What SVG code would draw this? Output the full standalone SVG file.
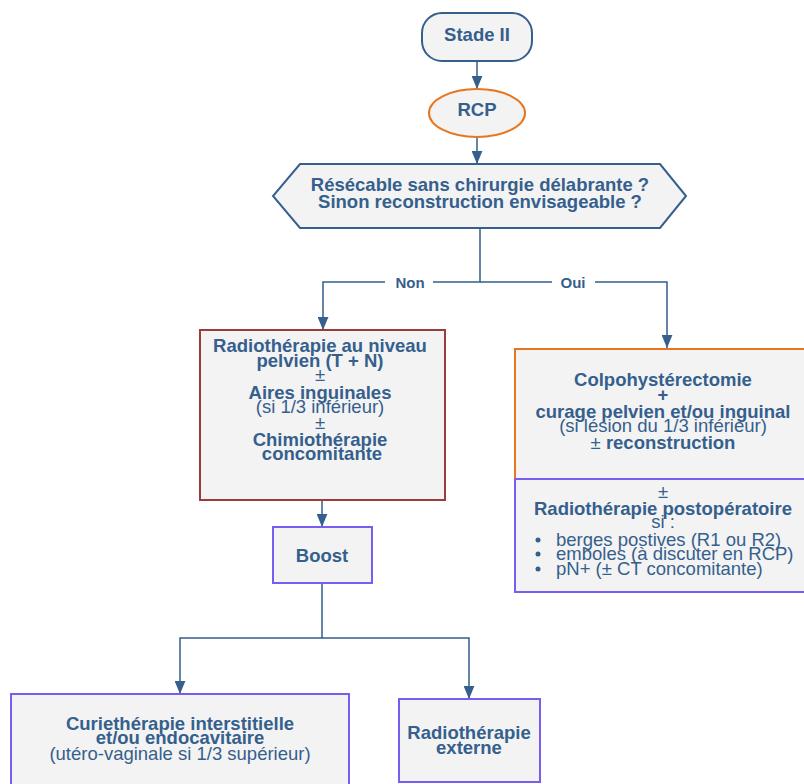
<svg xmlns="http://www.w3.org/2000/svg" width="804" height="784" viewBox="0 0 804 784">
<defs>
<style>
text{font-family:"Liberation Sans",Arial,sans-serif;fill:#355f8d;text-anchor:middle;font-size:18.5px}
.b{font-weight:bold}
.lbl{font-size:15px;font-weight:bold}
.box{fill:#f3f3f3;stroke-width:2}
.blue{stroke:#355f8d}
.orange{stroke:#e8761e}
.purple{stroke:#7b5cf0}
.red{stroke:#9b3b3b}
.edge{fill:none;stroke:#355f8d;stroke-width:1.5}
.l{text-anchor:start}
</style>
<marker id="arrL" viewBox="0 0 12 10" refX="12" refY="5" markerWidth="13" markerHeight="11" markerUnits="userSpaceOnUse" orient="auto">
<path d="M0,0 L12,5 L0,10 z" fill="#355f8d"/>
</marker>
</defs>
<rect width="804" height="784" fill="#ffffff"/>
<g id="connectors">
<path class="edge" d="M477,61 V89" marker-end="url(#arrL)"/>
<path class="edge" d="M477,137 V164" marker-end="url(#arrL)"/>
<path class="edge" d="M480,228 V282 H433 M385,282 H323 V330" marker-end="url(#arrL)"/>
<path class="edge" d="M480,282 H552 M595,282 H667 V348" marker-end="url(#arrL)"/>
<path class="edge" d="M322,500 V527" marker-end="url(#arrL)"/>
<path class="edge" d="M322,583 V638 H180 V694" marker-end="url(#arrL)"/>
<path class="edge" d="M322,638 H469 V699" marker-end="url(#arrL)"/>
<text class="lbl" x="410" y="287.5">Non</text>
<text class="lbl" x="573" y="287.5">Oui</text>
</g>
<g id="stade2">
<rect class="box blue" x="422" y="13" width="110" height="48" rx="20" ry="20"/>
<text class="b" x="477" y="40.5">Stade II</text>
</g>
<g id="rcp">
<ellipse class="box orange" cx="477" cy="113" rx="48" ry="24"/>
<text class="b" x="477" y="116">RCP</text>
</g>
<g id="decision">
<polygon class="box blue" points="300,164 660,164 686,196 660,228 300,228 273,196"/>
<text class="b" x="480" y="191">Résécable sans chirurgie délabrante ?</text>
<text class="b" x="480" y="207.5">Sinon reconstruction envisageable ?</text>
</g>
<g id="radio-pelvien">
<rect class="box red" x="200" y="330" width="245" height="170"/>
<text class="b" x="320" y="351.5">Radiothérapie au niveau</text>
<text class="b" x="320" y="366.5">pelvien (T + N)</text>
<text x="320" y="381">±</text>
<text class="b" x="320" y="398.5">Aires inguinales</text>
<text x="320" y="413">(si 1/3 inférieur)</text>
<text x="320" y="429">±</text>
<text class="b" x="320" y="445.5">Chimiothérapie</text>
<text class="b" x="322" y="459.5">concomitante</text>
</g>
<g id="boost">
<rect class="box purple" x="273" y="527" width="99" height="56"/>
<text class="b" x="322" y="561.5">Boost</text>
</g>
<g id="chirurgie">
<rect class="box orange" x="515" y="349" width="296" height="130"/>
<text class="b" x="663" y="385.5">Colpohystérectomie</text>
<text class="b" x="663" y="401">+</text>
<text class="b" x="663" y="417.5">curage pelvien et/ou inguinal</text>
<text x="663" y="431.5">(si lésion du 1/3 inférieur)</text>
<text x="663" y="448.5">± <tspan class="b">reconstruction</tspan></text>
</g>
<g id="radio-postop">
<rect class="box purple" x="515" y="479" width="296" height="113"/>
<text x="663" y="498">±</text>
<text class="b" x="663" y="514.5">Radiothérapie postopératoire</text>
<text x="663" y="528">si :</text>
<circle cx="538" cy="540" r="2.5" fill="#355f8d"/>
<circle cx="538" cy="554" r="2.5" fill="#355f8d"/>
<circle cx="538" cy="569" r="2.5" fill="#355f8d"/>
<text class="l" x="556" y="545.5">berges postives (R1 ou R2)</text>
<text class="l" x="556" y="559.5">emboles (à discuter en RCP)</text>
<text class="l" x="556" y="574.5">pN+ (± CT concomitante)</text>
</g>
<g id="curietherapie">
<rect class="box purple" x="11" y="694" width="338" height="110"/>
<text class="b" x="180" y="729.5">Curiethérapie interstitielle</text>
<text class="b" x="180" y="743.5">et/ou endocavitaire</text>
<text x="180" y="759.5">(utéro-vaginale si 1/3 supérieur)</text>
</g>
<g id="radio-externe">
<rect class="box purple" x="399" y="699" width="141" height="83"/>
<text class="b" x="469" y="738.5">Radiothérapie</text>
<text class="b" x="469" y="753.5">externe</text>
</g>
</svg>
